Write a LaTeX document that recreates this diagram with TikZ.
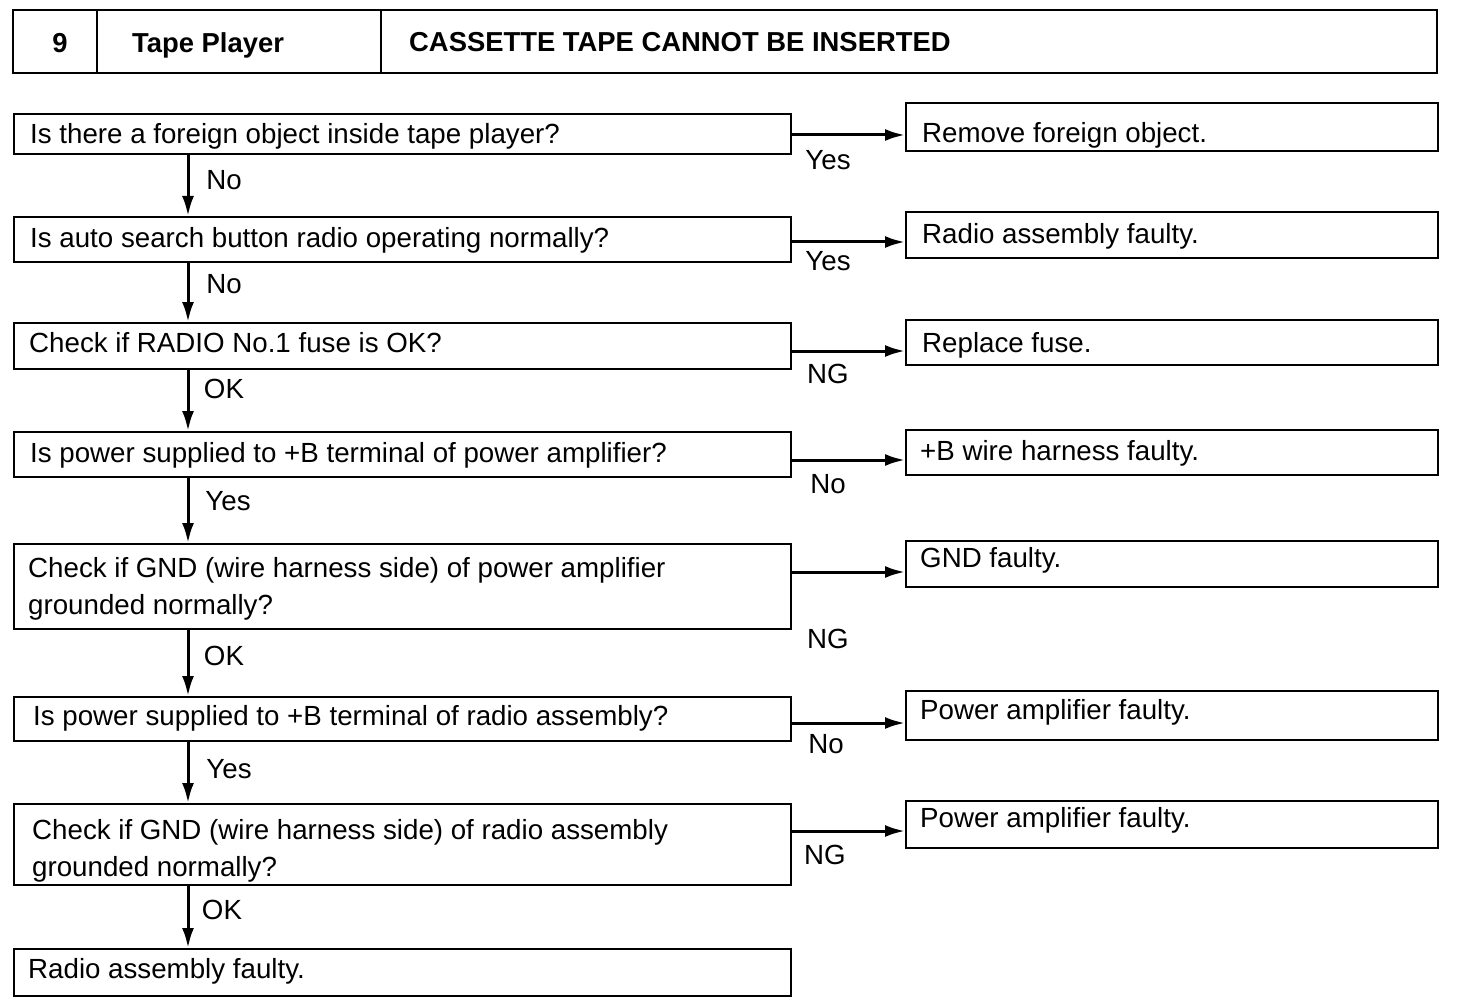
\documentclass[tikz,border=0pt]{standalone}
\usepackage{fontspec}
\setmainfont{Liberation Sans}
\usetikzlibrary{arrows.meta}
\begin{document}
\begin{tikzpicture}[x=1pt,y=-1pt,
  boxline/.style={draw=black,line width=2.2pt},
  txt/.style={inner sep=0pt,anchor=base west,font=\fontsize{27.7}{37}\selectfont,align=left},
  ttl/.style={inner sep=0pt,anchor=base west,font=\fontsize{27.4}{30}\selectfont\bfseries},
  lbl/.style={inner sep=0pt,anchor=base,font=\fontsize{27.7}{30}\selectfont},
  arr/.style={line width=3pt,-{Latex[length=20pt,width=12pt]}}]
\useasboundingbox (0,0) rectangle (1472,1008);
% title bar
\draw[boxline] (13,10) rectangle (1437,73);
\draw[boxline] (97,10) -- (97,73);
\draw[boxline] (381,10) -- (381,73);
\node[ttl,anchor=base] (tnum) at (60,53) {9};
\node[ttl] (tsys) at (132,53) {Tape Player};
\node[ttl] (ttitle) at (409,52) {CASSETTE TAPE CANNOT BE INSERTED};
% left boxes
\node[boxline,anchor=north west,minimum width=777pt,minimum height=40pt,inner sep=0pt] (l1) at (13,113) {};
\node[boxline,anchor=north west,minimum width=777pt,minimum height=45pt,inner sep=0pt] (l2) at (13,216) {};
\node[boxline,anchor=north west,minimum width=777pt,minimum height=46pt,inner sep=0pt] (l3) at (13,322) {};
\node[boxline,anchor=north west,minimum width=777pt,minimum height=45pt,inner sep=0pt] (l4) at (13,431) {};
\node[boxline,anchor=north west,minimum width=777pt,minimum height=85pt,inner sep=0pt] (l5) at (13,543) {};
\node[boxline,anchor=north west,minimum width=777pt,minimum height=44pt,inner sep=0pt] (l6) at (13,696) {};
\node[boxline,anchor=north west,minimum width=777pt,minimum height=81pt,inner sep=0pt] (l7) at (13,803) {};
\node[boxline,anchor=north west,minimum width=777pt,minimum height=47pt,inner sep=0pt] (l8) at (13,948) {};
\node[txt] (t1) at (30,144) {Is there a foreign object inside tape player?};
\node[txt] (t2) at (30,248) {Is auto search button radio operating normally?};
\node[txt] (t3) at (29,352) {Check if RADIO No.1 fuse is OK?};
\node[txt] (t4) at (30,462) {Is power supplied to +B terminal of power amplifier?};
\node[txt] (t5) at (28,614) {Check if GND (wire harness side) of power amplifier\\grounded normally?};
\node[txt] (t6) at (33,725) {Is power supplied to +B terminal of radio assembly?};
\node[txt] (t7) at (32,876) {Check if GND (wire harness side) of radio assembly\\grounded normally?};
\node[txt] (t8) at (28,978) {Radio assembly faulty.};
% right boxes
\node[boxline,anchor=north west,minimum width=532pt,minimum height=48pt,inner sep=0pt] (r1) at (905,102) {};
\node[boxline,anchor=north west,minimum width=532pt,minimum height=46pt,inner sep=0pt] (r2) at (905,211) {};
\node[boxline,anchor=north west,minimum width=532pt,minimum height=45pt,inner sep=0pt] (r3) at (905,319) {};
\node[boxline,anchor=north west,minimum width=532pt,minimum height=45pt,inner sep=0pt] (r4) at (905,429) {};
\node[boxline,anchor=north west,minimum width=532pt,minimum height=46pt,inner sep=0pt] (r5) at (905,540) {};
\node[boxline,anchor=north west,minimum width=532pt,minimum height=49pt,inner sep=0pt] (r6) at (905,690) {};
\node[boxline,anchor=north west,minimum width=532pt,minimum height=47pt,inner sep=0pt] (r7) at (905,800) {};
\node[txt] (s1) at (922,143) {Remove foreign object.};
\node[txt] (s2) at (922,244) {Radio assembly faulty.};
\node[txt] (s3) at (922,352) {Replace fuse.};
\node[txt] (s4) at (920,460) {+B wire harness faulty.};
\node[txt] (s5) at (920,567) {GND faulty.};
\node[txt] (s6) at (920,719) {Power amplifier faulty.};
\node[txt] (s7) at (920,827) {Power amplifier faulty.};
% vertical arrows
\draw[arr] (l1.south -| 188,0) -- (l2.north -| 188,0);
\draw[arr] (l2.south -| 188,0) -- (l3.north -| 188,0);
\draw[arr] (l3.south -| 188,0) -- (l4.north -| 188,0);
\draw[arr] (l4.south -| 188,0) -- (l5.north -| 188,0);
\draw[arr] (l5.south -| 188,0) -- (l6.north -| 188,0);
\draw[arr] (l6.south -| 188,0) -- (l7.north -| 188,0);
\draw[arr] (l7.south -| 188,0) -- (l8.north -| 188,0);
\node[lbl] (v1) at (224,190) {No};
\node[lbl] (v2) at (224,294) {No};
\node[lbl] (v3) at (224,398) {OK};
\node[lbl] (v4) at (228,510) {Yes};
\node[lbl] (v5) at (224,665) {OK};
\node[lbl] (v6) at (229,778) {Yes};
\node[lbl] (v7) at (222,919) {OK};
% horizontal arrows
\draw[arr] (l1.east |- 0,135) -- (r1.west |- 0,135);
\draw[arr] (l2.east |- 0,242) -- (r2.west |- 0,242);
\draw[arr] (l3.east |- 0,351) -- (r3.west |- 0,351);
\draw[arr] (l4.east |- 0,460) -- (r4.west |- 0,460);
\draw[arr] (l5.east |- 0,572) -- (r5.west |- 0,572);
\draw[arr] (l6.east |- 0,723) -- (r6.west |- 0,723);
\draw[arr] (l7.east |- 0,831) -- (r7.west |- 0,831);
\node[lbl] (h1) at (828,170) {Yes};
\node[lbl] (h2) at (828,271) {Yes};
\node[lbl] (h3) at (828,383) {NG};
\node[lbl] (h4) at (828,493) {No};
\node[lbl] (h5) at (828,648) {NG};
\node[lbl] (h6) at (826,753) {No};
\node[lbl] (h7) at (825,864) {NG};
\end{tikzpicture}
\end{document}
